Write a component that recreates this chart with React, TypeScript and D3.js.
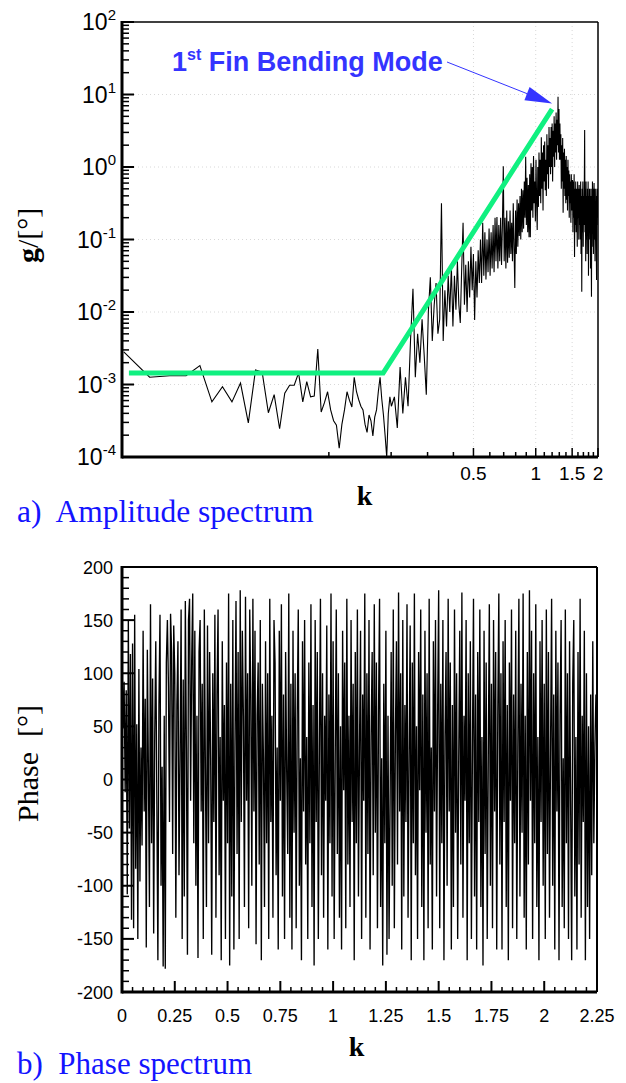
import React from "react";
import * as d3 from "d3";

// ---------- DATA ----------
// Amplitude spectrum, low-k part (k grid start/step) — values are log10(g)
const ampLowStart = 0.0102;
const ampLowStep = 0.0034;
const ampLowExp = [
  -2.55, -2.9, -2.88, -2.88, -2.74, -3.24, -3.03, -3.24, -2.98, -3.53,
  -2.8, -2.83, -3.39, -3.14, -3.61, -3.12, -3.01, -3.01, -2.84, -3.24,
  -2.96, -3.17, -3.16, -2.51, -3.38, -3.25, -3.1, -3.35, -3.5, -3.56,
  -3.88, -3.55, -3.35, -3.1, -3.22, -3.31, -2.9, -3.1, -3.21, -3.3,
  -3.35, -3.55, -3.66, -3.42, -3.5, -3.71, -3.45, -3.35, -3.1, -2.9,
  -3.2, -3.42, -3.7, -4.0, -3.4, -3.17, -3.3,
];
// Amplitude spectrum, high-k part — values are log10(g)
const ampHighStart = 0.2074;
const ampHighStep = 0.0068;
const ampHighExp = [
  -3.17, -3.6,
  -2.76, -3.4, -2.9, -3.3,
  -2.39, -1.68, -2.9, -2.3,
  -2.7, -2.1, -2.6, -3.14, -2.0,
  -1.52, -2.4, -1.9, -1.6, -2.3,
  -2.1, -0.5, -2.4, -1.7, -2.2, -1.5,
  -2.0, -1.38, -2.2, -1.5, -1.97, -1.3, -1.9,
  -2.15, -1.4, -0.77, -1.9, -1.35, -2.0, -1.3,
  -1.8, -1.1, -1.7, -1.2, -2.11, -1.3, -1.8, -1.15, -1.6,
  -1.0, -1.6, -0.77, -1.5, -0.9, -1.55, -1.0, -1.45, -0.85,
  -1.5, -0.9, -1.4, -0.8, -1.45, -0.7, -1.3, -0.69, -1.4, -0.8,
  -1.3, -0.7, -1.35, -0.8, 0.01, -1.3, -0.7, -1.4, -0.6, -1.32, -0.75, -1.25,
  -0.6, -1.2, -0.77, -1.3, -0.5, -1.1, -1.67, -0.6, -1.2, -0.45, -1.1, -0.5, -0.95,
  -0.4, -1.0, -0.3, -0.9, -0.32, -0.85, -0.2, -0.7, 0.14, -0.8, -0.15, -0.9, -0.25, -0.97,
  -0.1, -0.97, 0.05, -0.6, 0.0, -0.7, 0.15, -0.5, -0.2, -0.75, 0.1, -0.45, -0.87, 0.0, -0.55, 0.2, -0.4,
  0.1, -0.5, 0.41, -0.3, 0.2, -0.6, 0.3, -0.2, 0.35, -0.32, 0.1, -0.4, 0.45, -0.1, 0.3, -0.3, 0.55, 0.0,
  0.4, -0.1, 0.55, 0.0, 0.6, -0.2, 0.5, 0.14, 0.7, 0.0, 0.6, 0.2, 0.75, 0.1, 0.65, 0.3, 0.97, 0.2, 0.8, 0.1,
  0.6, 0.1, 0.45, -0.3, 0.3, -0.2, 0.4, -0.63, 0.2, -0.3, 0.25, -0.4, 0.1, -0.5, 0.15, -0.45, 0.0, -0.6, 0.1, -0.4, -0.05, -0.7, -0.1,
  -0.5, -0.2, -0.77, -0.1, -0.6, -0.2, -0.18, -0.9, -0.2, -0.7, -0.1, -1.24, -0.3, -0.8, -0.2, -0.9, -0.3, -0.6, -1.1, -0.2, -0.7, -0.3, -1.0, -0.25, -0.8,
  -0.3, -1.0, -0.2, -1.2, -0.4, -1.72, -0.3, -0.9, -0.2, -1.1, -0.4, -0.8, -0.3, 0.51, -0.9, -0.3, -1.3, -0.2, -1.0, -0.4, -1.2, -0.3, -0.9, -0.2, -1.5, -0.4, -0.8, -0.3,
  -1.0, -0.3, -1.4, -0.4, -0.9, -1.79, -0.3, -1.1, -0.2, -0.8, -0.3, -1.2, -0.4, -0.22, -1.0, -0.3, -1.3, -0.5, -0.9, -0.3, -1.1, -1.56, -0.4, -0.8, -0.3, -0.7,
];
// Green trend line (k, g)
const fitK = [0.0108, 0.183, 1.2];
const fitG = [1.44e-3, 1.44e-3, 6.3];
// Annotation target (k, g)
const peakK = 1.2;
const peakG = 7.5;

// Phase spectrum (degrees), k grid step
const phaseStep = 0.005;
const phaseDeg = [
  115, 48, 92, -12, 84, -108, 150, -46, 118, -132, 128, -140, 155, -84, 52, -150, 104, -96, 30, -62,
  140, -30, 76, -158, 122, 10, -120, 165, -60, 95, -145, 40, 130, -20, -170, 70, 155, -100, 12, -176,
  60, -178, 110, 150, 88, -40, 156, 120, -70, 145, 100, -130, 70, 130, -90, 20, 160, -150, 94, -110,
  168, 30, -165, 150, 170, -20, 110, 175, -60, 140, -100, 60, -168, 120, 150, -30, 90, -150, 160, 10,
  -120, 145, -60, 120, 20, -165, 100, -40, 155, -130, 80, 160, -90, 40, -170, 130, -20, 70, -150, 110,
  -60, 175, -175, 90, -110, 150, -160, 30, 168, -70, 120, -150, 178, -40, 140, 60, -120, 172, -20, 100,
  -140, 160, 80, -100, 170, -30, 140, -155, 60, 110, -80, 150, -170, 90, 20, -120, 130, -60, 100, -150,
  170, -40, 60, -130, 150, 110, -90, 30, -160, 140, -20, 165, -110, 80, -150, 120, 10, -70, 175, -130,
  90, -160, 140, -50, 100, -140, 60, 160, -100, 20, -170, 130, -30, 150, -80, 40, -150, 110, -60, 165,
  -120, 70, -175, 150, -40, 120, -150, 30, 170, -90, 100, -130, 60, -20, 145, -160, 80, -60, 175, -110,
  130, -150, 20, 160, -70, 100, -130, 50, -160, 140, -10, 110, -140, 170, -80, 60, -120, 150, -40, 90,
  -170, 120, -60, 160, -110, 30, 140, -150, 80, -20, 175, -130, 100, -70, 150, -160, 40, 120, -90, 165,
  -50, 110, -140, 60, 170, -120, 20, -175, 90, -60, 140, -165, 60, -150, -20, 120, -100, 160, -140, 40,
  130, -80, 176, -30, 100, -160, 150, -110, 70, -40, 165, -130, 20, 145, -170, 110, -60, 175, -90, 50,
  -150, 120, -10, 160, -120, 80, -170, 140, -50, 100, -140, 170, -80, 30, -160, 130, -30, 150, -110, 60,
  178, -140, 90, -60, 150, -170, 40, 120, -100, 170, -30, 110, -160, 70, -120, 160, -50, 100, -150, 20,
  140, -80, 176, -130, 60, -20, 150, -170, 100, -60, 130, -150, 30, 170, -110, 80, -160, 120, -40, 160,
  -120, 40, -175, 140, -70, 110, -150, 20, 165, -100, 90, -140, 150, -30, 120, -160, 60, 175, -80, 100,
  -160, 130, -40, 150, -120, 70, -170, 110, -20, 160, -140, 80, -60, 140, -150, 30, 170, -110, 90, -50,
  175, -130, 60, -160, 120, -80, 178, -20, 140, -150, 100, -60, 165, -120, 40, -170, 130, -40, 150, -100,
  90, -150, 160, -70, 120, -130, 30, 170, -100, 80, -160, 140, -30, 110, -170, 60, 150, -120, 20, -140,
  160, -60, 100, -150, 130, -20, -170, 90, 150, -110, 40, -160, 120, -80, 170, -130, 60, -40, 140, -170,
  100, -120, 50, -150, 80, -90, 130, -60, 30, 80,
];

// Tick definitions
const ampXTicks = [0.1, 0.2, 0.3, 0.4, 0.5, 0.6, 0.7, 0.8, 0.9, 1.0, 1.1, 1.2, 1.3, 1.4, 1.5, 1.6, 1.7, 1.8, 1.9, 2.0];
const ampXLabels = [0.5, 1, 1.5, 2];
const ampYExps = [-4, -3, -2, -1, 0, 1, 2];
const ampYMinorMult = [2, 3, 4, 5, 6, 7, 8, 9];
const phaseXMajor = [0, 0.25, 0.5, 0.75, 1, 1.25, 1.5, 1.75, 2, 2.25];
const phaseYMajor = [-200, -150, -100, -50, 0, 50, 100, 150, 200];

const SANS = "'Liberation Sans', Arial, Helvetica, sans-serif";
const SERIF = "'Liberation Serif', 'Times New Roman', Times, serif";
const BLUE_ANN = "#3434ff";
const BLUE_CAP = "#1414ff";
const GREEN = "#10f080";

export default function App() {
  const xA = d3.scaleLog().domain([0.01, 2]).range([122, 598]);
  const yA = d3.scaleLog().domain([1e-4, 1e2]).range([457, 22]);
  const xP = d3.scaleLinear().domain([0, 2.25]).range([122, 597]);
  const yP = d3.scaleLinear().domain([-200, 200]).range([992, 567]);

  const ampPts = [
    ...ampLowExp.map((e, i) => [ampLowStart + i * ampLowStep, Math.pow(10, e)]),
    ...ampHighExp.map((e, i) => [ampHighStart + i * ampHighStep, Math.pow(10, e)]),
  ];
  const ampLine = d3
    .line<number[]>()
    .x((d) => xA(d[0]))
    .y((d) => yA(d[1]));
  const fitPts = fitK.map((k, i) => [k, fitG[i]]);

  const phasePts = phaseDeg.map((v, i) => [i * phaseStep, v]);
  const phaseLine = d3
    .line<number[]>()
    .x((d) => xP(d[0]))
    .y((d) => yP(d[1]));

  const [aL, aR] = xA.range();
  const [aB, aT] = yA.range();
  const [pL, pR] = xP.range();
  const [pB, pT] = yP.range();

  const yMinor: number[] = [];
  ampYExps.slice(0, -1).forEach((e) =>
    ampYMinorMult.forEach((m) => yMinor.push(m * Math.pow(10, e)))
  );
  const pxMinor = d3.range(0, 2.2501, 0.05);
  const pyMinor = d3.range(-200, 200.01, 10);

  const tipX = xA(peakK);
  const tipY = yA(peakG);
  const sx = 447, sy = 62;
  const ang = Math.atan2(tipY - sy, tipX - sx);
  const hl = 27, hw = 7;
  const bx = tipX - hl * Math.cos(ang);
  const by = tipY - hl * Math.sin(ang);
  const head = [
    [tipX, tipY],
    [bx + hw * Math.sin(ang), by - hw * Math.cos(ang)],
    [bx - hw * Math.sin(ang), by + hw * Math.cos(ang)],
  ];

  return (
    <svg
      width={626}
      height={1083}
      style={{ position: "absolute", left: 0, top: 0, background: "#fff" }}
    >
      <defs>
        <clipPath id="clipA">
          <rect x={aL} y={aT} width={aR - aL} height={aB - aT} />
        </clipPath>
        <clipPath id="clipP">
          <rect x={pL} y={pT} width={pR - pL} height={pB - pT} />
        </clipPath>
      </defs>

      {/* ================= TOP: amplitude ================= */}
      <g stroke="#d8d8d8" strokeWidth={1} strokeDasharray="1,3">
        {ampYExps.slice(1, -1).map((e) => (
          <line key={"gy" + e} x1={aL} x2={aR} y1={yA(Math.pow(10, e))} y2={yA(Math.pow(10, e))} />
        ))}
        {ampXLabels.slice(0, -1).map((k) => (
          <line key={"gx" + k} x1={xA(k)} x2={xA(k)} y1={aT} y2={aB} />
        ))}
      </g>

      <path
        d={ampLine(ampPts as any) || ""}
        fill="none"
        stroke="#000"
        strokeWidth={1.1}
        clipPath="url(#clipA)"
      />
      <path
        d={ampLine(fitPts as any) || ""}
        fill="none"
        stroke={GREEN}
        strokeWidth={5}
        strokeLinejoin="miter"
      />

      <line x1={aL} x2={aR} y1={aT} y2={aT} stroke="#000" strokeWidth={1.5} />
      <line x1={aR} x2={aR} y1={aT} y2={aB} stroke="#000" strokeWidth={1.5} />
      <line x1={aL} x2={aL} y1={aT - 1} y2={aB + 1.5} stroke="#000" strokeWidth={3} />
      <line x1={aL} x2={aR} y1={aB} y2={aB} stroke="#000" strokeWidth={3} />

      <g stroke="#000" strokeWidth={1.5}>
        {ampYExps.map((e) => (
          <line key={"ym" + e} x1={aL} x2={aL + 12} y1={yA(Math.pow(10, e))} y2={yA(Math.pow(10, e))} strokeWidth={2} />
        ))}
        {yMinor.map((v, i) => (
          <line key={"yn" + i} x1={aL} x2={aL + 7} y1={yA(v)} y2={yA(v)} />
        ))}
        {ampXTicks.map((k) => {
          const major = ampXLabels.includes(k);
          return (
            <line key={"xt" + k} x1={xA(k)} x2={xA(k)} y1={aB} y2={aB - (major ? 9 : 5)} strokeWidth={1.5} />
          );
        })}
      </g>
      <g fontFamily={SANS} fill="#000">
        {ampYExps.map((e) => (
          <text key={"yl" + e} x={116} y={yA(Math.pow(10, e)) + 8} textAnchor="end" fontSize={23}>
            10
            <tspan dy={-10} fontSize={15}>{e}</tspan>
          </text>
        ))}
        {ampXLabels.map((k) => (
          <text key={"xl" + k} x={xA(k)} y={480} textAnchor="middle" fontSize={19}>
            {k}
          </text>
        ))}
      </g>
      <text x={364.5} y={505} textAnchor="middle" fontFamily={SERIF} fontWeight="bold" fontSize={28}>
        k
      </text>
      <text
        transform="translate(38,263) rotate(-90)"
        fontFamily={SERIF}
        fontSize={30}
        textAnchor="start"
      >
        <tspan fontWeight="bold">g</tspan>/[°]
      </text>

      <text x={172} y={71} fontFamily={SANS} fontWeight="bold" fontSize={27} fill={BLUE_ANN}>
        1<tspan dy={-11} fontSize={16}>st</tspan>
        <tspan dy={11}> Fin Bending Mode</tspan>
      </text>
      <line x1={sx} y1={sy} x2={bx} y2={by} stroke={BLUE_ANN} strokeWidth={1} />
      <polygon points={head.map((p) => p.join(",")).join(" ")} fill={BLUE_ANN} />

      <text x={17} y={522} fontFamily={SERIF} fontSize={31.5} fill={BLUE_CAP} style={{ whiteSpace: "pre" }}>
        {"a)  Amplitude spectrum"}
      </text>

      {/* ================= BOTTOM: phase ================= */}
      <path
        d={phaseLine(phasePts as any) || ""}
        fill="none"
        stroke="#000"
        strokeWidth={1.35}
        clipPath="url(#clipP)"
      />
      <line x1={pL} x2={pR} y1={pT} y2={pT} stroke="#000" strokeWidth={2} />
      <line x1={pR} x2={pR} y1={pT} y2={pB} stroke="#000" strokeWidth={2} />
      <line x1={pL} x2={pL} y1={pT - 1} y2={pB + 1.5} stroke="#000" strokeWidth={3} />
      <line x1={pL} x2={pR} y1={pB} y2={pB} stroke="#000" strokeWidth={3} />
      <g stroke="#000">
        {pyMinor.map((v) => {
          const major = Math.abs(v % 50) < 1e-6;
          return (
            <line key={"py" + v} x1={pL} x2={pL + (major ? 12 : 7)} y1={yP(v)} y2={yP(v)} strokeWidth={major ? 2 : 1.5} />
          );
        })}
        {pxMinor.map((v, i) => {
          const major = i % 5 === 0;
          return (
            <line key={"px" + i} x1={xP(v)} x2={xP(v)} y1={pB} y2={pB - (major ? 11 : 5)} strokeWidth={major ? 2 : 1.5} />
          );
        })}
      </g>
      <g fontFamily={SANS} fill="#000" fontSize={18}>
        {phaseYMajor.map((v) => (
          <text key={"pyl" + v} x={113} y={yP(v) + 6.5} textAnchor="end">
            {v}
          </text>
        ))}
        {phaseXMajor.map((v) => (
          <text key={"pxl" + v} x={xP(v)} y={1022} textAnchor="middle">
            {v}
          </text>
        ))}
      </g>
      <text x={356.5} y={1056} textAnchor="middle" fontFamily={SERIF} fontWeight="bold" fontSize={28}>
        k
      </text>
      <text
        transform="translate(38,822) rotate(-90)"
        fontFamily={SERIF}
        fontSize={30}
        style={{ whiteSpace: "pre" }}
      >
        {"Phase  [°]"}
      </text>
      <text x={17} y={1074} fontFamily={SERIF} fontSize={31} fill={BLUE_CAP} style={{ whiteSpace: "pre" }}>
        {"b)  Phase spectrum"}
      </text>
    </svg>
  );
}
